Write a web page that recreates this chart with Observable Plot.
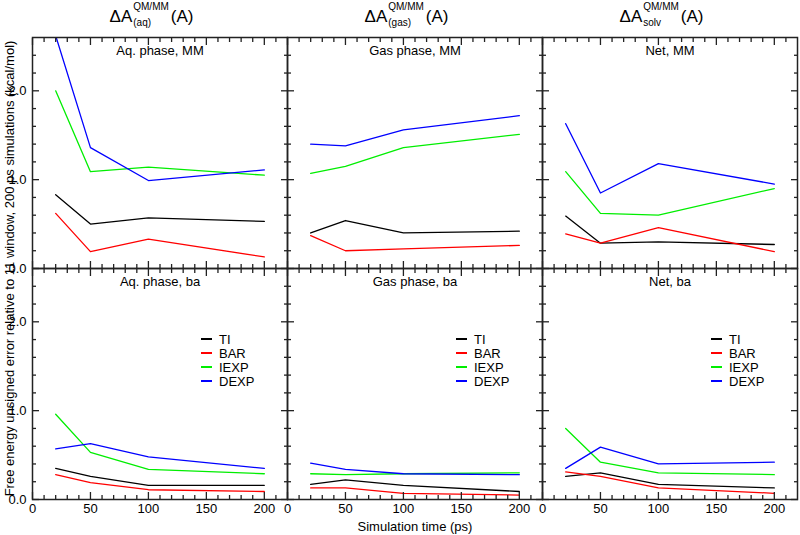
<!DOCTYPE html>
<html><head><meta charset="utf-8">
<script src="https://cdn.jsdelivr.net/npm/d3@7"></script>
<script src="https://cdn.jsdelivr.net/npm/@observablehq/plot@0.6"></script>
<style>
body{margin:0;background:#fff;font-family:"Liberation Sans",Arial,sans-serif;color:#000;}
#wrap{position:relative;width:800px;height:535px;}
.ctitle{position:absolute;top:0;height:32px;display:flex;align-items:flex-start;white-space:nowrap;transform:translateX(-50%);}
.ctitle .main{font-size:17px;line-height:17px;margin-top:8px;}
.ctitle .st{display:flex;flex-direction:column;font-size:10px;line-height:10px;margin:2px 2px 0 1px;}
.ctitle .st .sb{margin-top:6px;}
.legend{position:absolute;font-size:13px;}
.legend .row{display:flex;align-items:center;height:14px;}
.legend .sw{display:inline-block;width:11px;height:1.5px;margin-right:7px;}
</style>
</head><body><div id="wrap"></div>
<script>
// ---- data ----
const times = [20, 50, 100, 200];
const methods = ["TI", "BAR", "IEXP", "DEXP"];
const methodColors = ["#000000", "#ff0000", "#00ee00", "#0000ff"];
const phases = ["aq", "gas", "net"];
const samplings = ["MM", "ba"];
const panelTitles = ["Aq. phase, MM", "Gas phase, MM", "Net, MM", "Aq. phase, ba", "Gas phase, ba", "Net, ba"];
const columnSubscripts = ["(aq)", "(gas)", "solv"];

// values per panel: rows = TI, BAR, IEXP, DEXP; columns = times
const aqMM  = [[0.83, 0.50, 0.57, 0.53], [0.62, 0.19, 0.33, 0.13], [2.00, 1.09, 1.14, 1.05], [2.62, 1.36, 0.99, 1.11]];
const gasMM = [[0.40, 0.54, 0.40, 0.42], [0.37, 0.20, 0.22, 0.26], [1.07, 1.15, 1.36, 1.51], [1.40, 1.38, 1.56, 1.72]];
const netMM = [[0.59, 0.285, 0.30, 0.27], [0.39, 0.285, 0.46, 0.19], [1.09, 0.62, 0.60, 0.90], [1.63, 0.85, 1.18, 0.95]];
const aqBa  = [[0.35, 0.26, 0.16, 0.16], [0.28, 0.19, 0.11, 0.09], [0.96, 0.53, 0.34, 0.29], [0.57, 0.63, 0.48, 0.35]];
const gasBa = [[0.17, 0.22, 0.16, 0.09], [0.13, 0.13, 0.07, 0.05], [0.29, 0.28, 0.29, 0.30], [0.41, 0.34, 0.29, 0.28]];
const netBa = [[0.26, 0.30, 0.17, 0.13], [0.31, 0.26, 0.13, 0.07], [0.80, 0.42, 0.30, 0.28], [0.35, 0.59, 0.40, 0.42]];

const xMajor = [0, 50, 100, 150, 200];
const xMinor = [10, 20, 30, 40, 60, 70, 80, 90, 110, 120, 130, 140, 160, 170, 180, 190, 210];
const yMajor = [0, 1, 2];
const yMinor = [0.2, 0.4, 0.6, 0.8, 1.2, 1.4, 1.6, 1.8, 2.2, 2.4];

// ---- build table ----
const panels = [
  {phase: "aq", sim: "MM", vals: aqMM}, {phase: "gas", sim: "MM", vals: gasMM}, {phase: "net", sim: "MM", vals: netMM},
  {phase: "aq", sim: "ba", vals: aqBa}, {phase: "gas", sim: "ba", vals: gasBa}, {phase: "net", sim: "ba", vals: netBa}
];
const rows = [];
panels.forEach(p => p.vals.forEach((series, mi) => series.forEach((v, ti) =>
  rows.push({phase: p.phase, sim: p.sim, method: methods[mi], t: times[ti], v}))));
const panelRows = panels.map((p, i) => ({phase: p.phase, sim: p.sim, label: panelTitles[i]}));

// ---- layout ----
const W = 800, H = 535, mL = 32, mR = 3, mT = 36, mB = 36;
const panelW = (W - mL - mR) / 3;

const tk = {stroke: "#222", strokeWidth: 1.3, fill: "none", label: null, facetAnchor: null};

const chart = Plot.plot({
  width: W, height: H,
  marginLeft: mL, marginRight: mR, marginTop: mT, marginBottom: mB,
  style: {fontSize: "13px", fontFamily: "'Liberation Sans', Arial, sans-serif", background: "transparent", color: "#000"},
  fx: {domain: phases, padding: 0, axis: null},
  fy: {domain: samplings, padding: 0, axis: null},
  x: {domain: [0, 220]},
  y: {domain: [0, 2.6]},
  color: {domain: methods, range: methodColors},
  marks: [
    Plot.lineY(rows, {x: "t", y: "v", z: "method", stroke: "method", fx: "phase", fy: "sim", strokeWidth: 1.3, clip: true}),
    Plot.text(panelRows, {fx: "phase", fy: "sim", text: "label", frameAnchor: "top", lineAnchor: "top", dy: 8, fill: "#000"}),
    Plot.axisX(xMajor, {anchor: "bottom", tickSize: 7, dy: -7, ...tk}),
    Plot.axisX(xMinor, {anchor: "bottom", tickSize: 4, dy: -4, ...tk}),
    Plot.axisX(xMajor, {anchor: "top", tickSize: 7, dy: 7, ...tk}),
    Plot.axisX(xMinor, {anchor: "top", tickSize: 4, dy: 4, ...tk}),
    Plot.axisY(yMajor, {anchor: "left", tickSize: 7, dx: 7, ...tk}),
    Plot.axisY(yMinor, {anchor: "left", tickSize: 4, dx: 4, ...tk}),
    Plot.axisY(yMajor, {anchor: "right", tickSize: 7, dx: -7, ...tk}),
    Plot.axisY(yMinor, {anchor: "right", tickSize: 4, dx: -4, ...tk}),
    Plot.axisX(xMajor, {anchor: "bottom", tickSize: 0, tickPadding: 4, label: "Simulation time (ps)", labelAnchor: "center", labelOffset: 31, labelArrow: "none"}),
    Plot.axisY(yMajor, {anchor: "left", tickSize: 0, tickPadding: 6, label: "Free energy unsigned error relative to 11 window, 200 ps simulations (kcal/mol)", labelAnchor: "center", labelOffset: 28, labelArrow: "none"}),
    Plot.frame({stroke: "#222", strokeWidth: 1.5})
  ]
});

const wrap = document.getElementById("wrap");
wrap.appendChild(chart);

// column titles
columnSubscripts.forEach((sub, i) => {
  const d = document.createElement("div");
  d.className = "ctitle";
  d.style.left = (mL + panelW * (i + 0.5) - 8) + "px";
  d.innerHTML = `<span class="main">ΔA</span><span class="st"><span class="sp">QM/MM</span><span class="sb">${sub}</span></span><span class="main">(A)</span>`;
  wrap.appendChild(d);
});

// legends in bottom panels
phases.forEach((p, i) => {
  const lg = document.createElement("div");
  lg.className = "legend";
  lg.style.left = (mL + panelW * i + 169) + "px";
  lg.style.top = "332px";
  methods.forEach((m, mi) => {
    const r = document.createElement("div");
    r.className = "row";
    r.innerHTML = `<span class="sw" style="background:${methodColors[mi]}"></span><span>${m}</span>`;
    lg.appendChild(r);
  });
  wrap.appendChild(lg);
});
</script></body></html>
